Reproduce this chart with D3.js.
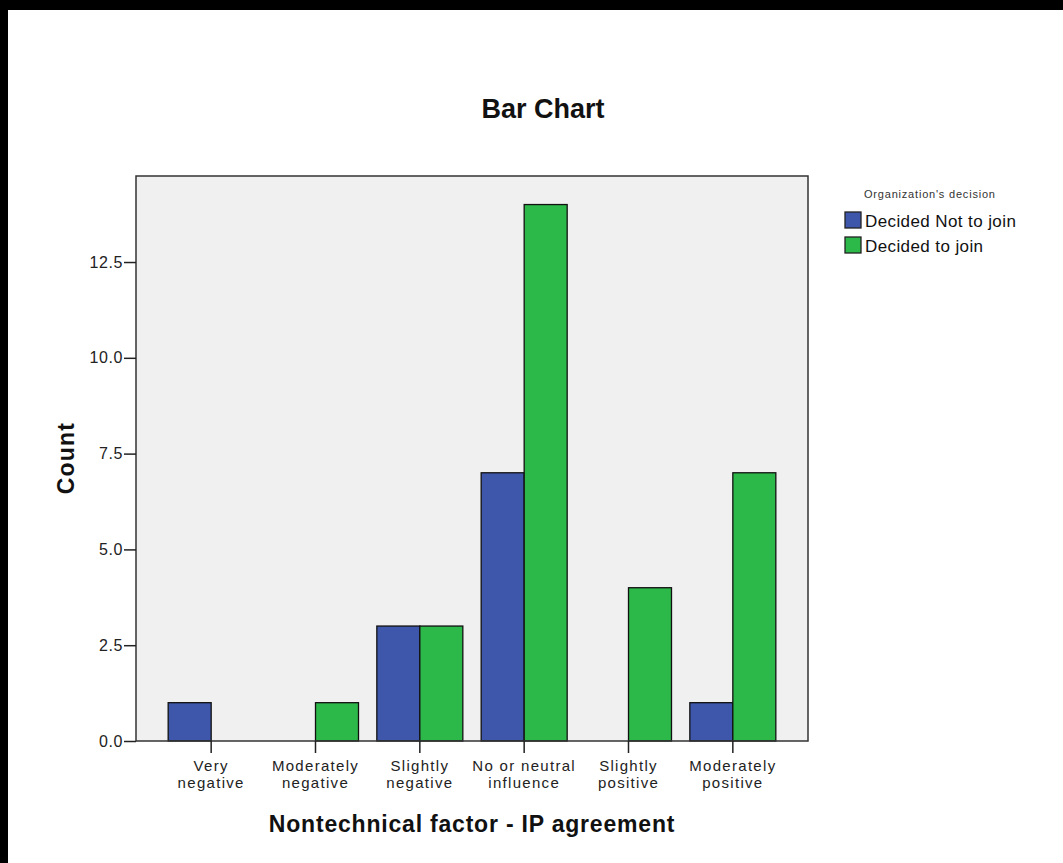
<!DOCTYPE html>
<html>
<head>
<meta charset="utf-8">
<script src="https://cdn.jsdelivr.net/npm/d3@7"></script>
<style>
  html, body { margin: 0; padding: 0; background: #fff; }
  svg { display: block; }
  text { font-family: "Liberation Sans", Arial, sans-serif; }
</style>
</head>
<body>
<script>
const categories = [
  ["Very", "negative"],
  ["Moderately", "negative"],
  ["Slightly", "negative"],
  ["No or neutral", "influence"],
  ["Slightly", "positive"],
  ["Moderately", "positive"]
];
const seriesNames = ["Decided Not to join", "Decided to join"];
const notJoin = [1, 0, 3, 7, 0, 1];
const join = [0, 1, 3, 14, 4, 7];
const yTicks = [0, 2.5, 5, 7.5, 10, 12.5];
const colors = ["#3e57aa", "#2db84a"];

const W = 1063, H = 863;
const svg = d3.select("body").append("svg").attr("width", W).attr("height", H);

// outer black frame edges
svg.append("rect").attr("x", 0).attr("y", 0).attr("width", W).attr("height", 10).attr("fill", "#000");
svg.append("rect").attr("x", 0).attr("y", 0).attr("width", 8).attr("height", H).attr("fill", "#000");

const plot = { left: 136, top: 176, right: 808, bottom: 741 };

const y = d3.scaleLinear().domain([0, 14.745]).range([plot.bottom, plot.top]);
const x = d3.scaleBand().domain(d3.range(categories.length)).range([plot.left + 23, plot.right - 23]).padding(0);
const barW = 43;

// plot background
svg.append("rect")
  .attr("x", plot.left).attr("y", plot.top)
  .attr("width", plot.right - plot.left).attr("height", plot.bottom - plot.top)
  .attr("fill", "#f0f0f0");

// bars
const data = [];
categories.forEach((c, i) => {
  [notJoin, join].forEach((arr, s) => {
    if (arr[i] > 0) data.push({ i, s, v: arr[i] });
  });
});
svg.append("g").selectAll("rect").data(data).join("rect")
  .attr("x", d => x(d.i) + x.bandwidth() / 2 + (d.s === 0 ? -barW : 0))
  .attr("y", d => y(d.v))
  .attr("width", barW)
  .attr("height", d => y(0) - y(d.v))
  .attr("fill", d => colors[d.s])
  .attr("stroke", "#111")
  .attr("stroke-width", 1.3);

// frame
svg.append("rect")
  .attr("x", plot.left).attr("y", plot.top)
  .attr("width", plot.right - plot.left).attr("height", plot.bottom - plot.top)
  .attr("fill", "none").attr("stroke", "#333").attr("stroke-width", 1.5);

// y axis
const yAxis = svg.append("g").attr("transform", `translate(${plot.left},0)`)
  .call(d3.axisLeft(y).tickValues(yTicks).tickFormat(d3.format(".1f")).tickSize(12).tickPadding(1));
yAxis.select(".domain").remove();
yAxis.selectAll("line").attr("stroke", "#222").attr("stroke-width", 1.5);
yAxis.selectAll("text").attr("font-size", 16).attr("fill", "#222").attr("letter-spacing", 0.6)
  .attr("font-family", "Liberation Sans, Arial, sans-serif");

// x axis ticks
const xAxis = svg.append("g").attr("transform", `translate(0,${plot.bottom})`)
  .call(d3.axisBottom(x).tickSize(12).tickFormat(""));
xAxis.select(".domain").remove();
xAxis.selectAll("line").attr("stroke", "#222").attr("stroke-width", 1.5);
xAxis.selectAll(".tick").each(function(d) {
  const t = d3.select(this).append("text")
    .attr("fill", "#222").attr("font-size", 15).attr("text-anchor", "middle")
    .attr("letter-spacing", 1.3)
    .attr("font-family", "Liberation Sans, Arial, sans-serif");
  categories[d].forEach((line, k) => {
    t.append("tspan").attr("x", 0).attr("y", 30 + k * 16.5).text(line);
  });
});

// title
svg.append("text").attr("x", 543).attr("y", 118).attr("text-anchor", "middle")
  .attr("font-size", 27).attr("font-weight", "bold").attr("fill", "#111").text("Bar Chart");

// axis titles
svg.append("text").attr("x", 472).attr("y", 832).attr("text-anchor", "middle")
  .attr("font-size", 23).attr("font-weight", "bold").attr("fill", "#111").attr("letter-spacing", 0.8)
  .text("Nontechnical factor - IP agreement");
svg.append("text").attr("transform", "translate(74,458) rotate(-90)").attr("text-anchor", "middle")
  .attr("font-size", 23).attr("font-weight", "bold").attr("fill", "#111").attr("letter-spacing", 1.2).text("Count");

// legend
svg.append("text").attr("x", 864).attr("y", 198).attr("font-size", 11).attr("fill", "#333")
  .attr("letter-spacing", 0.8).text("Organization's decision");
const lg = svg.append("g").selectAll("g").data(seriesNames).join("g")
  .attr("transform", (d, i) => `translate(845,${212 + i * 25})`);
lg.append("rect").attr("width", 16).attr("height", 16)
  .attr("fill", (d, i) => colors[i]).attr("stroke", "#222").attr("stroke-width", 1.3);
lg.append("text").attr("x", 20).attr("y", 15).attr("font-size", 17).attr("fill", "#111")
  .attr("letter-spacing", 0.4).text(d => d);
</script>
</body>
</html>
